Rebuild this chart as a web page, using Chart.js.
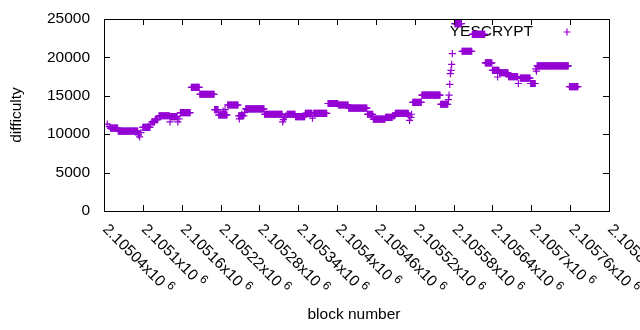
<!DOCTYPE html>
<html>
<head>
<meta charset="utf-8">
<script src="https://cdn.jsdelivr.net/npm/chart.js@4.4.1/dist/chart.umd.min.js"></script>
<style>
  html, body { margin: 0; padding: 0; background: #fff; }
  #wrap { width: 640px; height: 330px; }
</style>
</head>
<body>
<div id="wrap"><canvas id="diffChart" width="640" height="330"></canvas></div>
<script>
// runs of consecutive blocks sharing one difficulty
const runStart = [2105050, 2105062, 2105100, 2105114, 2105119, 2105125, 2105143, 2105158, 2105175, 2105188,
  2105211, 2105217, 2105231, 2105248, 2105259, 2105288, 2105323, 2105336, 2105351, 2105364,
  2105386, 2105402, 2105418, 2105447, 2105456, 2105475, 2105486, 2105490, 2105517, 2105531,
  2105560, 2105582, 2105593, 2105609, 2105629, 2105640, 2105651, 2105665, 2105683, 2105699,
  2105709, 2105759];
const runEnd = [2105061, 2105092, 2105111, 2105118, 2105123, 2105141, 2105153, 2105173, 2105187, 2105210,
  2105216, 2105230, 2105247, 2105256, 2105287, 2105315, 2105335, 2105350, 2105361, 2105384,
  2105401, 2105417, 2105446, 2105455, 2105474, 2105485, 2105489, 2105510, 2105530, 2105559,
  2105571, 2105592, 2105608, 2105628, 2105639, 2105650, 2105664, 2105679, 2105698, 2105706,
  2105757, 2105772];
const runDiff = [10800, 10400, 10900, 11600, 11900, 12400, 12300, 12800, 16100, 15200,
  13200, 12500, 13800, 12400, 13300, 12600, 12600, 12300, 12700, 12700,
  14000, 13800, 13400, 12600, 11950, 12200, 12400, 12700, 14150, 15100,
  13900, 24400, 20800, 23000, 19300, 18300, 18000, 17500, 17300, 16600,
  18900, 16200];

// single blocks off the plateaus
const singleBlock = [2105045, 2105048, 2105093, 2105095, 2105097, 2105112, 2105142, 2105154, 2105156,
  2105224, 2105227, 2105249, 2105253, 2105257, 2105316, 2105317, 2105319, 2105321, 2105362,
  2105511, 2105512, 2105514, 2105515, 2105572, 2105573, 2105574, 2105575, 2105576, 2105577,
  2105578, 2105648, 2105680, 2105707, 2105708];
const singleDiff = [11300, 11000, 9900, 9650, 10200, 11300, 11600, 11600, 12000,
  13000, 13200, 12000, 12600, 12800, 11600, 11900, 12200, 12400, 12100,
  12400, 11800, 12200, 12600, 14500, 15100, 16500, 17900, 18300, 19100,
  20500, 17450, 16600, 18500, 18200];

const xTickLabels = ['2.10504', '2.1051', '2.10516', '2.10522', '2.10528', '2.10534', '2.1054',
  '2.10546', '2.10552', '2.10558', '2.10564', '2.1057', '2.10576', '2.10582'];
const yTickValues = [0, 5000, 10000, 15000, 20000, 25000];

const seriesName = 'YESCRYPT';
const purple = '#9400d3';
const font = '15.5px "Liberation Sans", Arial, sans-serif';

const points = [];
runStart.forEach(function (s, i) {
  for (let b = s; b <= runEnd[i]; b++) points.push({ x: b, y: runDiff[i] });
});
singleBlock.forEach(function (b, i) { points.push({ x: b, y: singleDiff[i] }); });

const frame = {
  id: 'frame',
  beforeDatasetsDraw(chart) {
    const ctx = chart.ctx, a = chart.chartArea;
    ctx.save();
    ctx.font = font;
    ctx.fillStyle = '#000';
    ctx.textAlign = 'right';
    ctx.textBaseline = 'middle';
    ctx.fillText(seriesName, 533, 32);
    ctx.strokeStyle = purple;
    ctx.lineWidth = 1.2;
    ctx.beginPath();
    ctx.moveTo(563.5, 32); ctx.lineTo(570.5, 32);
    ctx.moveTo(567, 28.5); ctx.lineTo(567, 35.5);
    ctx.stroke();
    ctx.restore();
  },
  afterDraw(chart) {
    const ctx = chart.ctx, a = chart.chartArea;
    const xs = chart.scales.x, ys = chart.scales.y;
    ctx.save();
    ctx.strokeStyle = '#000';
    ctx.lineWidth = 1;
    ctx.strokeRect(Math.round(a.left) + 0.5, Math.round(a.top) + 0.5,
      Math.round(a.right - a.left), Math.round(a.bottom - a.top));
    ctx.beginPath();
    yTickValues.forEach(function (v) {
      const y = Math.round(ys.getPixelForValue(v)) + 0.5;
      ctx.moveTo(a.left, y); ctx.lineTo(a.left + 6, y);
      ctx.moveTo(a.right, y); ctx.lineTo(a.right - 6, y);
    });
    xTickLabels.forEach(function (t) {
      const x = Math.round(xs.getPixelForValue(parseFloat(t) * 1e6)) + 0.5;
      ctx.moveTo(x, a.bottom); ctx.lineTo(x, a.bottom - 6);
      ctx.moveTo(x, a.top); ctx.lineTo(x, a.top + 6);
    });
    ctx.stroke();

    ctx.fillStyle = '#000';
    ctx.font = font;
    ctx.textAlign = 'right';
    ctx.textBaseline = 'middle';
    yTickValues.forEach(function (v) {
      ctx.fillText(String(v), 90, ys.getPixelForValue(v));
    });

    ctx.textAlign = 'left';
    ctx.textBaseline = 'middle';
    xTickLabels.forEach(function (t) {
      const x = xs.getPixelForValue(parseFloat(t) * 1e6);
      ctx.save();
      ctx.translate(x + 1, a.bottom + 16);
      ctx.rotate(Math.PI / 4);
      const main = t + 'x10';
      ctx.font = font;
      ctx.fillText(main, 0, 0);
      const w = ctx.measureText(main).width;
      ctx.font = '12px "Liberation Sans", Arial, sans-serif';
      ctx.fillText('6', w + 4, -5);
      ctx.restore();
    });

    ctx.font = font;
    ctx.textAlign = 'center';
    ctx.fillText('block number', 354, 315);
    ctx.save();
    ctx.translate(17, (a.top + a.bottom) / 2);
    ctx.rotate(-Math.PI / 2);
    ctx.fillText('difficulty', 0, 0);
    ctx.restore();
    ctx.restore();
  }
};

new Chart(document.getElementById('diffChart').getContext('2d'), {
  type: 'scatter',
  data: {
    datasets: [{
      label: seriesName,
      data: points,
      pointStyle: 'cross',
      pointRadius: 3.6,
      pointBorderWidth: 1.2,
      borderColor: purple,
      backgroundColor: purple,
      showLine: false
    }]
  },
  options: {
    responsive: false,
    animation: false,
    layout: { padding: { left: 104, top: 19, right: 31, bottom: 119 } },
    scales: {
      x: { type: 'linear', display: false, min: 2105040, max: 2105820 },
      y: { type: 'linear', display: false, min: 0, max: 25000 }
    },
    plugins: { legend: { display: false }, tooltip: { enabled: false } }
  },
  plugins: [frame]
});
</script>
</body>
</html>
